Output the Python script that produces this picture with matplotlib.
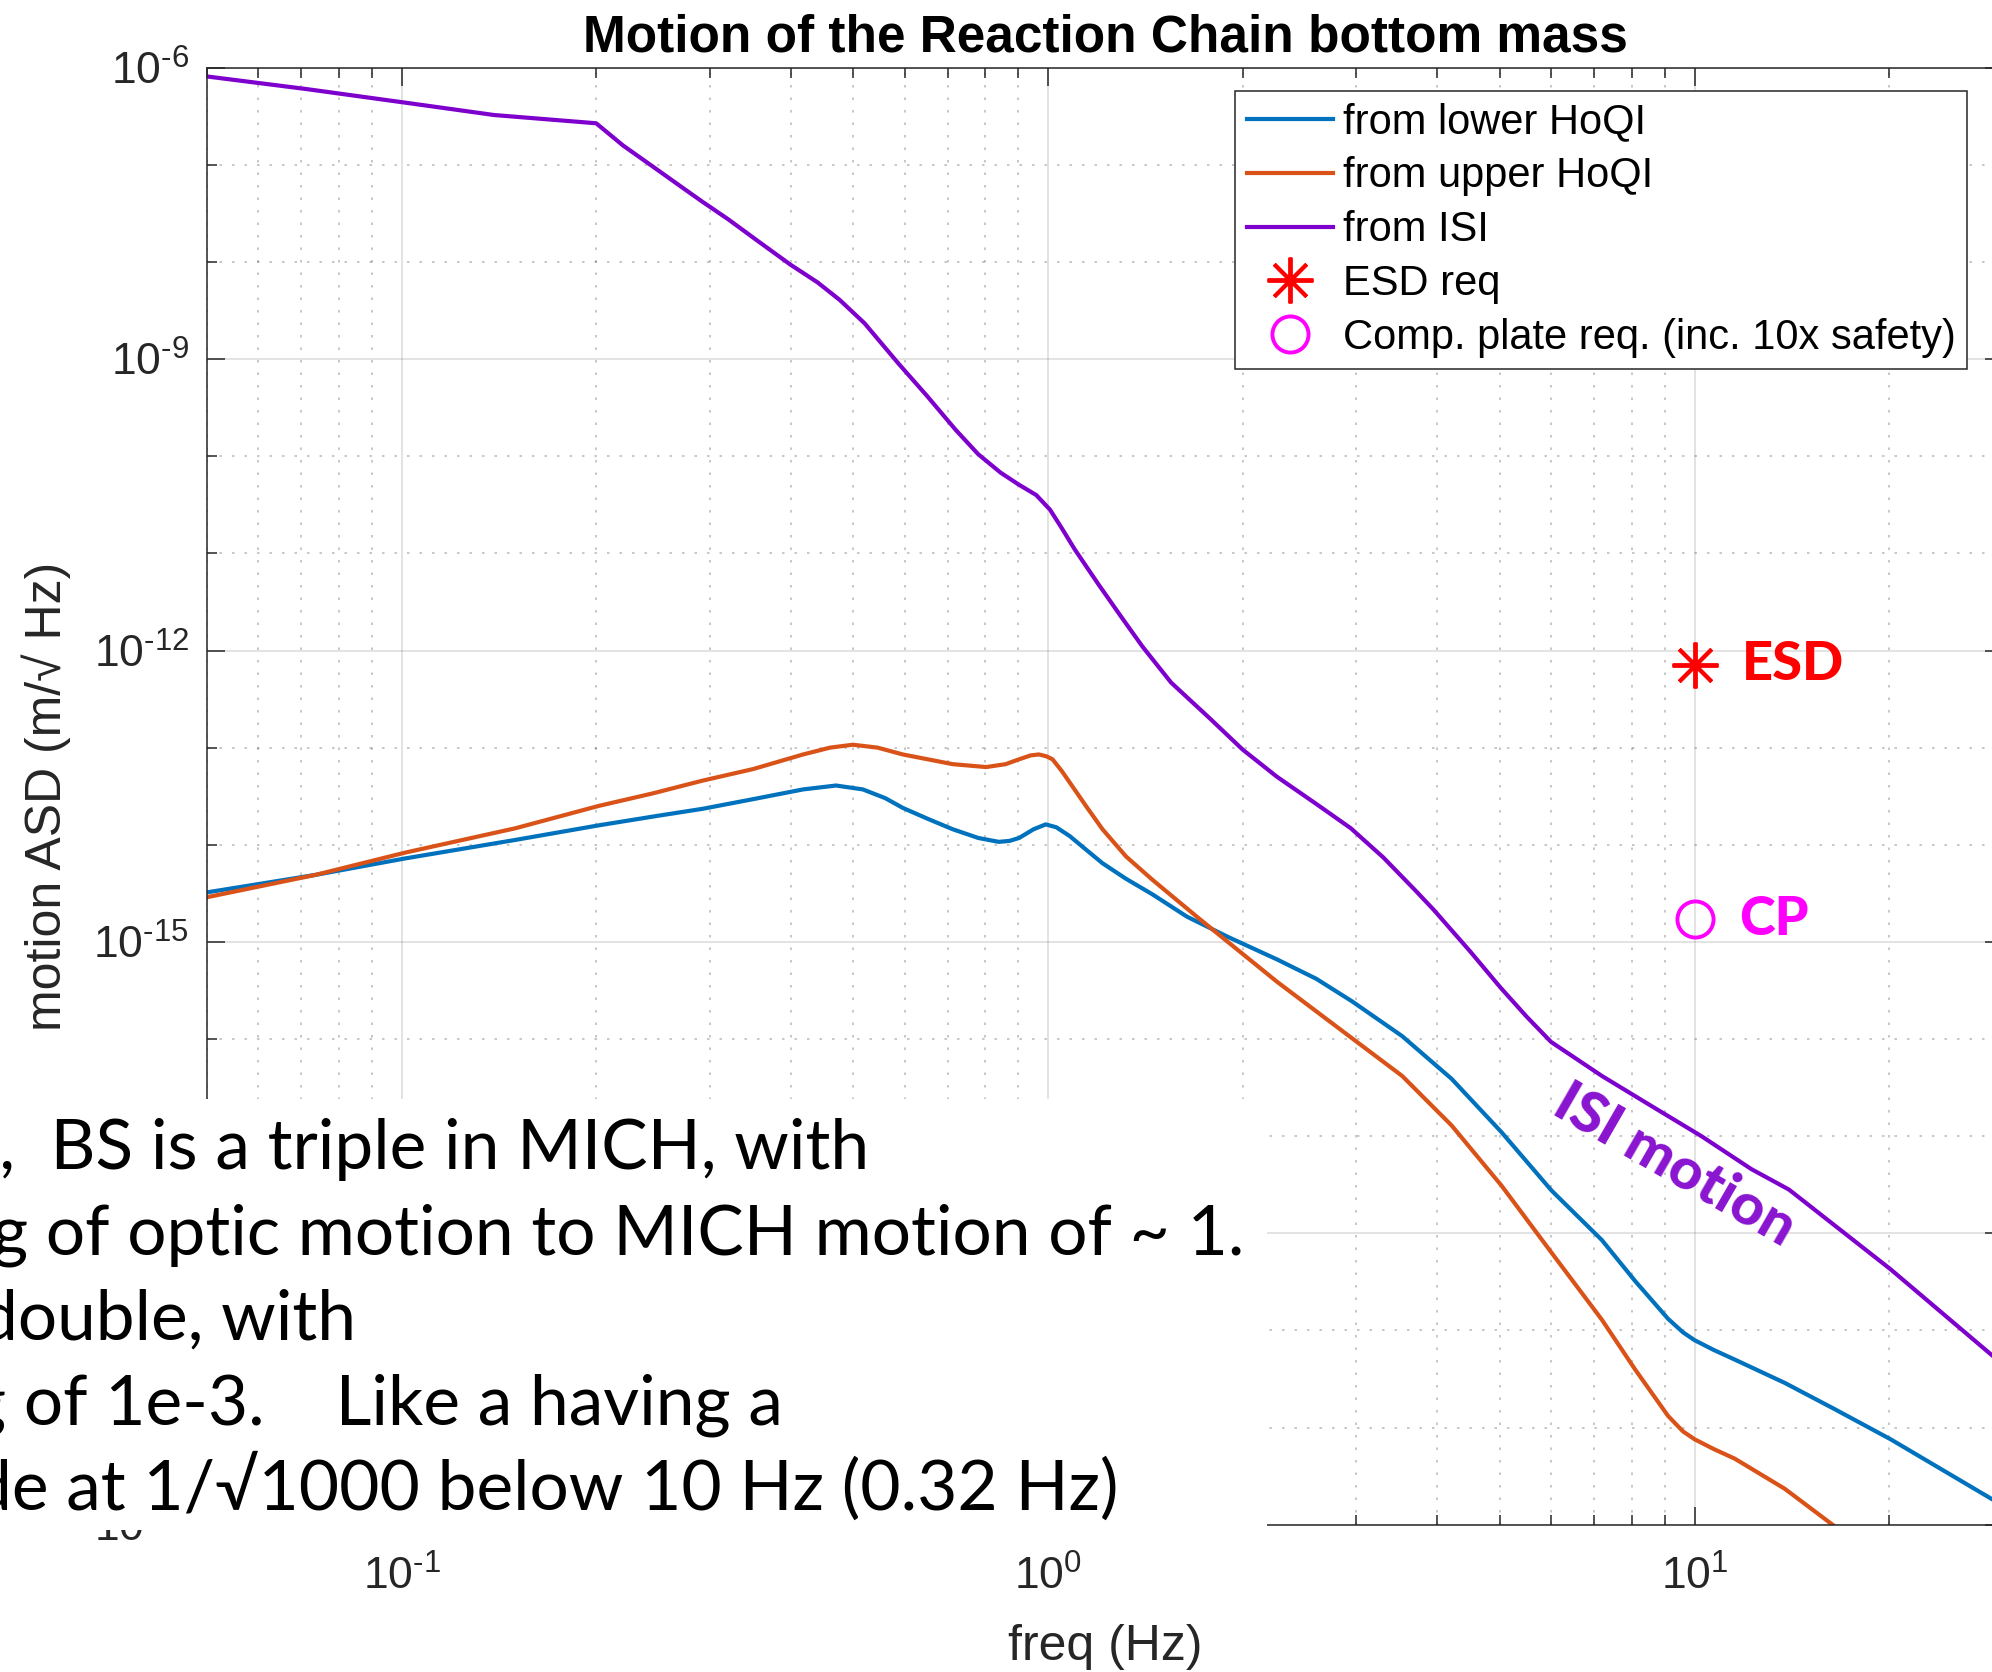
import numpy as np
import matplotlib
matplotlib.use('Agg')
from matplotlib import pyplot as plt
from matplotlib.patches import Rectangle
from matplotlib.ticker import FixedLocator, FuncFormatter, NullFormatter

plt.rcParams['font.family'] = ['Liberation Sans', 'DejaVu Sans']
plt.rcParams['mathtext.fontset'] = 'custom'
plt.rcParams['mathtext.rm'] = 'Liberation Sans'
plt.rcParams['mathtext.it'] = 'Liberation Sans:italic'
plt.rcParams['mathtext.bf'] = 'Liberation Sans:bold'

# curves: frequency in Hz, ASD as log10(m/rtHz)
# from lower HoQI
freq_lower = [0.05, 0.0736, 0.1014, 0.15, 0.2018, 0.25, 0.292, 0.350, 0.418, 0.470,
              0.517, 0.56, 0.596, 0.65, 0.712, 0.78, 0.839, 0.872, 0.902, 0.95,
              0.992, 1.03, 1.080, 1.14, 1.214, 1.32, 1.45, 1.64, 1.9, 2.26,
              2.6, 2.95, 3.53, 4.21, 5.03, 6.01, 7.19, 8.09, 9.10, 9.6,
              10.0, 10.7, 11.54, 13.79, 16.47, 20.1, 28.9, 30.0]
log_asd_lower = [-14.49, -14.31, -14.14, -13.95, -13.80, -13.70, -13.63, -13.53, -13.43, -13.39,
                 -13.43, -13.52, -13.62, -13.73, -13.84, -13.93, -13.97, -13.96, -13.93, -13.84,
                 -13.79, -13.82, -13.91, -14.04, -14.19, -14.35, -14.51, -14.74, -14.95, -15.18,
                 -15.38, -15.61, -15.97, -16.41, -16.96, -17.56, -18.07, -18.49, -18.88, -19.02,
                 -19.10, -19.20, -19.30, -19.54, -19.81, -20.12, -20.74, -20.80]

# from upper HoQI
freq_upper = [0.05, 0.0736, 0.1014, 0.15, 0.2018, 0.245, 0.292, 0.350, 0.418, 0.46,
              0.499, 0.545, 0.596, 0.712, 0.802, 0.86, 0.902, 0.940, 0.968, 0.995,
              1.016, 1.05, 1.091, 1.15, 1.214, 1.32, 1.45, 1.72, 2.26, 2.95,
              3.53, 4.21, 5.03, 6.01, 7.19, 8.09, 9.10, 9.6, 10.0, 10.7,
              11.54, 13.79, 16.5]
log_asd_upper = [-14.54, -14.31, -14.08, -13.83, -13.60, -13.47, -13.34, -13.22, -13.07, -13.00,
                 -12.97, -13.00, -13.07, -13.17, -13.20, -13.17, -13.12, -13.08, -13.07, -13.09,
                 -13.12, -13.24, -13.40, -13.62, -13.84, -14.12, -14.36, -14.77, -15.41, -15.99,
                 -16.38, -16.89, -17.51, -18.20, -18.89, -19.40, -19.88, -20.04, -20.12, -20.22,
                 -20.32, -20.63, -21.02]

# from ISI
freq_isi = [0.05, 0.0713, 0.1014, 0.139, 0.2, 0.22, 0.245, 0.27, 0.292, 0.32,
            0.355, 0.40, 0.44, 0.476, 0.52, 0.586, 0.65, 0.72, 0.78, 0.845,
            0.90, 0.959, 1.007, 1.05, 1.10, 1.197, 1.30, 1.40, 1.55, 1.78,
            2.0, 2.26, 2.60, 2.94, 3.30, 3.70, 3.95, 4.50, 5.01, 5.5,
            6.0, 7.19, 8.58, 10.25, 12.25, 14.0, 20.1, 28.9, 30.0]
log_asd_isi = [-6.09, -6.22, -6.36, -6.487, -6.572, -6.80, -7.02, -7.22, -7.38, -7.56,
               -7.78, -8.03, -8.21, -8.39, -8.63, -9.04, -9.38, -9.73, -9.98, -10.17,
               -10.29, -10.40, -10.55, -10.74, -10.96, -11.32, -11.66, -11.96, -12.33, -12.70,
               -13.02, -13.30, -13.58, -13.83, -14.13, -14.47, -14.67, -15.10, -15.47, -15.77,
               -16.03, -16.38, -16.69, -17.00, -17.34, -17.55, -18.37, -19.26, -19.33]

# requirements at 10 Hz
req_freq = 10.0
esd_req = 7.1e-13
cp_req = 1.72e-15

slide_lines = [
    'r,  BS is a triple in MICH, with',
    'g of optic motion to MICH motion of ~ 1.',
    'double, with',
    'g of 1e-3.    Like a having a',
    'de at 1/\u221a1000 below 10 Hz (0.32 Hz)',
]
slide_right = [0.4362, 0.6245, 0.1787, 0.3931, 0.5617]


def pow10_label(v, pos):
    # MATLAB style exponent with a plain hyphen
    e = int(round(np.log10(v)))
    if e < 0:
        return r'$\mathdefault{10^{\text{-}%d}}$' % (-e)
    return r'$\mathdefault{10^{%d}}$' % e


fig = plt.figure(figsize=(19.92, 16.72), dpi=100)
fig.set_facecolor('white')
ax = fig.add_axes([0.1039, 0.0881, 0.9016, 0.8714])

ax.loglog(freq_lower, np.power(10.0, log_asd_lower), color='#0072BD', lw=3.0, label='from lower HoQI')
ax.loglog(freq_upper, np.power(10.0, log_asd_upper), color='#D95319', lw=3.0, label='from upper HoQI')
ax.loglog(freq_isi, np.power(10.0, log_asd_isi), color='#7E00CC', lw=3.0, label='from ISI')
ax.plot([req_freq], [esd_req], ls='none', marker=(8, 2, 0), ms=33, mec='#FF0000', color='#FF0000',
        mew=2.8, label='ESD req')
ax.plot([req_freq], [cp_req], ls='none', marker='o', ms=26, mfc='none', mec='#FF00FF', mew=2.8,
        label='Comp. plate req. (inc. 10x safety)')

ax.set_xlim(0.05, 30)
ax.set_ylim(1e-21, 1e-6)
ax.yaxis.set_major_locator(FixedLocator([1e-21, 1e-18, 1e-15, 1e-12, 1e-9, 1e-6]))
ax.yaxis.set_minor_locator(FixedLocator([10.0 ** e for e in range(-21, -5) if e % 3 != 0]))
ax.xaxis.set_major_locator(FixedLocator([0.1, 1.0, 10.0]))
ax.yaxis.set_major_formatter(FuncFormatter(pow10_label))
ax.xaxis.set_major_formatter(FuncFormatter(pow10_label))
ax.yaxis.set_minor_formatter(NullFormatter())
ax.xaxis.set_minor_formatter(NullFormatter())

ax.set_axisbelow(True)
ax.grid(True, which='major', color='#262626', alpha=0.15, lw=1.2, ls='-')
ax.grid(True, which='minor', color='#262626', alpha=0.3, lw=1.2, ls=(0, (1.5, 6)))

ax.tick_params(which='both', direction='in', top=True, right=True, width=1.1,
               color='#262626', labelsize=32, labelcolor='#262626')
ax.tick_params(which='major', length=13)
ax.tick_params(which='minor', length=7)
ax.tick_params(axis='x', pad=22)
ax.tick_params(axis='y', pad=13)
for s in ax.spines.values():
    s.set_color('#262626')
    s.set_linewidth(1.1)

ax.set_title('Motion of the Reaction Chain bottom mass', fontsize=37, fontweight='bold', pad=12)
ax.set_xlabel('freq (Hz)', fontsize=36, color='#262626')
ax.set_ylabel('motion ASD (m/\u221a Hz)', fontsize=36, color='#262626')
ax.xaxis.set_label_coords(0.5, -0.068)
ax.yaxis.set_label_coords(-0.0757, 0.5)

leg = ax.legend(loc='upper left', bbox_to_anchor=(0.5724, 0.984), borderaxespad=0, fontsize=30,
                fancybox=False, edgecolor='#262626', framealpha=1, borderpad=0.28,
                labelspacing=0.33, handlelength=2.07, handletextpad=0.24, numpoints=1)
leg.get_frame().set_linewidth(1.1)

ax.annotate('ESD', xy=(req_freq, esd_req), xytext=(34, 0), textcoords='offset points',
            ha='left', va='center', color='#FF0000', fontsize=39, fontweight='black',
            family=['Lato', 'DejaVu Sans'])
ax.annotate('CP', xy=(req_freq, cp_req), xytext=(32, 0), textcoords='offset points',
            ha='left', va='center', color='#FF00FF', fontsize=39, fontweight='black',
            family=['Lato', 'DejaVu Sans'])
ax.text(0.8174, 0.2462, 'ISI motion', transform=ax.transAxes, rotation=-30, rotation_mode='anchor',
        ha='center', va='center', color='#8A14D0', fontsize=42, fontweight='black',
        family=['Lato', 'DejaVu Sans'])

# white slide text box laid over the lower left of the plot
fig.add_artist(Rectangle((0, 0.0849), 0.636, 0.2578, transform=fig.transFigure,
                         facecolor='white', edgecolor='none', zorder=10))
for i, line in enumerate(slide_lines):
    fig.text(slide_right[i], 0.3008 - i * 0.0509, line, ha='right', va='baseline',
             fontsize=50, color='black', family=['Lato', 'DejaVu Sans'], zorder=11)

fig.savefig('out.png', dpi=100)
